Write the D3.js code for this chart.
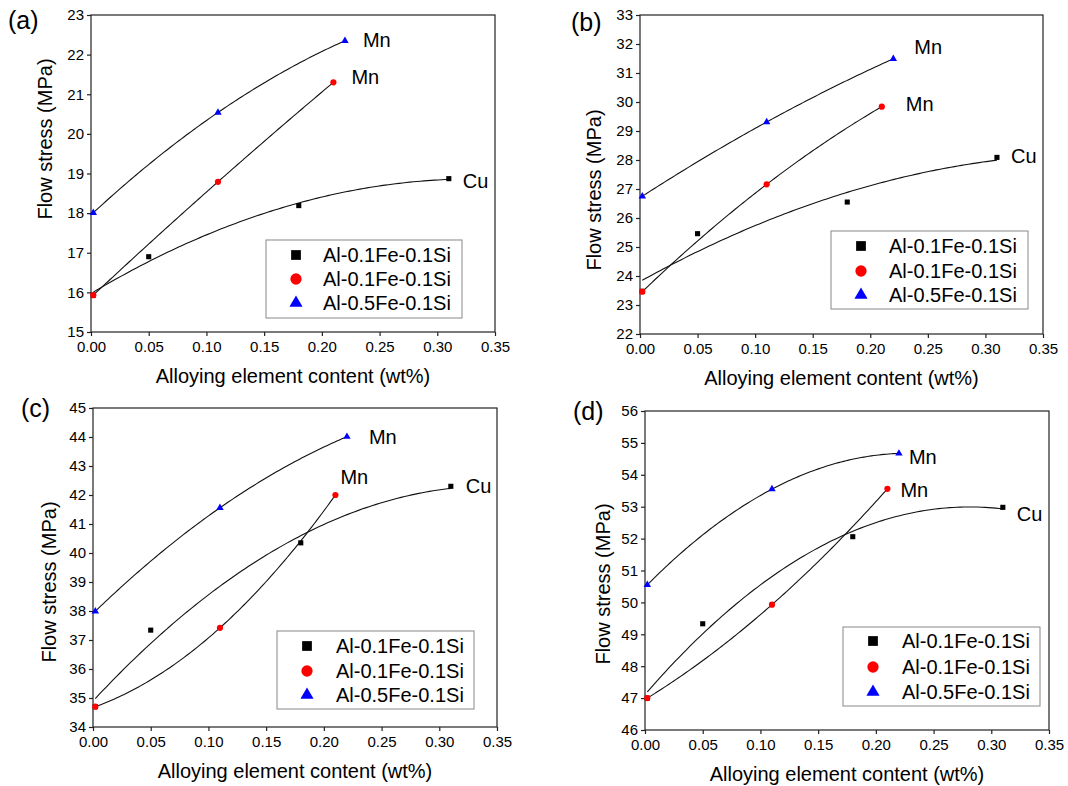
<!DOCTYPE html>
<html>
<head>
<meta charset="utf-8">
<script src="https://cdn.jsdelivr.net/npm/d3@7"></script>
<style>
  html, body { margin: 0; padding: 0; background: #fff; }
  svg { display: block; font-family: "Liberation Sans", Arial, sans-serif; }
</style>
</head>
<body>
<svg id="chart" width="1068" height="786"></svg>
<script>
// Alloying element content (wt%) for each series
const xCu = [0.002, 0.05, 0.18, 0.31];
const xMnLowFe = [0.002, 0.11, 0.21];
const xMnHighFe = [0.002, 0.11, 0.22];

// Flow stress (MPa), panel (a)
const cuA = [15.93, 16.90, 18.19, 18.87];
const mnLowFeA = [15.93, 18.79, 21.30];
const mnHighFeA = [18.01, 20.54, 22.35];
// panel (b)
const cuB = [23.47, 25.46, 26.55, 28.09];
const mnLowFeB = [23.46, 27.16, 29.84];
const mnHighFeB = [26.75, 29.31, 31.49];
// panel (c)
const cuC = [34.70, 37.34, 40.35, 42.30];
const mnLowFeC = [34.70, 37.42, 42.00];
const mnHighFeC = [37.99, 41.56, 44.01];
// panel (d)
const cuD = [47.00, 49.33, 52.06, 52.98];
const mnLowFeD = [47.00, 49.93, 53.56];
const mnHighFeD = [50.55, 53.55, 54.67];

// Axis ranges and ticks
const xTicks = [0, 0.05, 0.10, 0.15, 0.20, 0.25, 0.30, 0.35];
const yRangeA = [15, 23];
const yRangeB = [22, 33];
const yRangeC = [34, 45];
const yRangeD = [46, 56];

const panelNames = ["(a)", "(b)", "(c)", "(d)"];
const legendLabels = ["Al-0.1Fe-0.1Si", "Al-0.1Fe-0.1Si", "Al-0.5Fe-0.1Si"];
const curveLabels = ["Cu", "Mn", "Mn"];
const xTitle = "Alloying element content (wt%)";
const yTitle = "Flow stress (MPa)";

// Plot boxes and text placement for each panel
const panels = [
  { name: panelNames[0], y: yRangeA, series: [cuA, mnLowFeA, mnHighFeA],
    box: { l: 91, r: 495, t: 15, b: 332 },
    tag: { x: 8, y: 29 }, yTitle: { x: 52, y: 139 },
    legend: { x: 266, y: 240, w: 196, h: 78, sx: 296, tx: 323, rows: [255, 279, 303] },
    labelOff: [[14, 2], [18, -5], [18, -1]] },
  { name: panelNames[1], y: yRangeB, series: [cuB, mnLowFeB, mnHighFeB],
    box: { l: 640, r: 1043, t: 15, b: 334 },
    tag: { x: 571, y: 31 }, yTitle: { x: 601, y: 190 },
    legend: { x: 831, y: 231, w: 197, h: 78, sx: 861, tx: 889, rows: [246, 271, 295] },
    labelOff: [[14, -1], [24, -3], [21, -12]] },
  { name: panelNames[2], y: yRangeC, series: [cuC, mnLowFeC, mnHighFeC],
    box: { l: 93, r: 497, t: 408, b: 727 },
    tag: { x: 21, y: 417 }, yTitle: { x: 56, y: 582 },
    legend: { x: 277, y: 631, w: 197, h: 78, sx: 307, tx: 336, rows: [646, 671, 695] },
    labelOff: [[15, 0], [5, -18], [22, 0]] },
  { name: panelNames[3], y: yRangeD, series: [cuD, mnLowFeD, mnHighFeD],
    box: { l: 645, r: 1049, t: 411, b: 730 },
    tag: { x: 573, y: 420 }, yTitle: { x: 610, y: 584 },
    legend: { x: 843, y: 627, w: 197, h: 79, sx: 873, tx: 902, rows: [641, 667, 692] },
    labelOff: [[14, 7], [13, 1], [10, 4]] }
];

const xValues = [xCu, xMnLowFe, xMnHighFe];
const colors = ["#000000", "#ff0000", "#0000ff"];
const symbols = [d3.symbolSquare, d3.symbolCircle, d3.symbolTriangle];
const markSizes = [26, 30, 24];
const legendSizes = [95, 100, 75];

// Least-squares second-order polynomial fit
function quadFit(xs, ys) {
  const s = [0, 0, 0, 0, 0], t = [0, 0, 0];
  xs.forEach((x, i) => {
    for (let k = 0; k < 5; k++) s[k] += Math.pow(x, k);
    for (let k = 0; k < 3; k++) t[k] += ys[i] * Math.pow(x, k);
  });
  const m = [[s[0], s[1], s[2], t[0]], [s[1], s[2], s[3], t[1]], [s[2], s[3], s[4], t[2]]];
  for (let c = 0; c < 3; c++) {
    let p = c;
    for (let r = c + 1; r < 3; r++) if (Math.abs(m[r][c]) > Math.abs(m[p][c])) p = r;
    [m[c], m[p]] = [m[p], m[c]];
    for (let r = 0; r < 3; r++) {
      if (r === c) continue;
      const f = m[r][c] / m[c][c];
      for (let k = c; k < 4; k++) m[r][k] -= f * m[c][k];
    }
  }
  const a = m.map((row, i) => row[3] / row[i]);
  return x => a[0] + a[1] * x + a[2] * x * x;
}

const svg = d3.select("#chart");
const axisColor = "#222";

panels.forEach(p => {
  const g = svg.append("g");
  const x = d3.scaleLinear().domain([0, 0.35]).range([p.box.l, p.box.r]);
  const y = d3.scaleLinear().domain(p.y).range([p.box.b, p.box.t]);

  // Frame
  g.append("rect")
    .attr("x", p.box.l).attr("y", p.box.t)
    .attr("width", p.box.r - p.box.l).attr("height", p.box.b - p.box.t)
    .attr("fill", "none").attr("stroke", axisColor).attr("stroke-width", 1.2);

  // Axes
  const xAxis = d3.axisBottom(x).tickValues(xTicks).tickSize(4).tickPadding(5)
    .tickFormat(d3.format(".2f"));
  const gx = g.append("g").attr("transform", `translate(0,${p.box.b})`).call(xAxis);
  const yAxis = d3.axisLeft(y).ticks(p.y[1] - p.y[0]).tickSize(4).tickPadding(3)
    .tickFormat(d3.format("d"));
  const gy = g.append("g").attr("transform", `translate(${p.box.l},0)`).call(yAxis);
  [gx, gy].forEach(a => {
    a.select(".domain").remove();
    a.selectAll(".tick line").attr("stroke", axisColor).attr("stroke-width", 1.2);
    a.selectAll(".tick text").attr("fill", "#000").style("font-size", "15px")
      .style("font-family", '"Liberation Sans", Arial, sans-serif');
  });

  // Axis titles and panel tag
  g.append("text").attr("x", (p.box.l + p.box.r) / 2).attr("y", p.box.b + 51)
    .attr("text-anchor", "middle").style("font-size", "20px").text(xTitle);
  g.append("text")
    .attr("transform", `translate(${p.yTitle.x},${p.yTitle.y}) rotate(-90)`)
    .attr("text-anchor", "middle").style("font-size", "20px").text(yTitle);
  g.append("text").attr("x", p.tag.x).attr("y", p.tag.y)
    .style("font-size", "25px").text(p.name);

  // Fit curves
  p.series.forEach((ys, si) => {
    const xs = xValues[si];
    const f = quadFit(xs, ys);
    const x0 = xs[0], x1 = xs[xs.length - 1];
    const pts = d3.range(0, 101).map(i => x0 + (x1 - x0) * i / 100);
    g.append("path")
      .attr("d", d3.line().x(v => x(v)).y(v => y(f(v)))(pts))
      .attr("fill", "none").attr("stroke", "#111").attr("stroke-width", 1.1);
  });

  // Markers
  p.series.forEach((ys, si) => {
    const xs = xValues[si];
    g.selectAll(null).data(ys).enter().append("path")
      .attr("transform", (d, i) => `translate(${x(xs[i])},${y(d)})`)
      .attr("d", d3.symbol().type(symbols[si]).size(markSizes[si]))
      .attr("fill", colors[si]);
  });

  // End labels
  p.series.forEach((ys, si) => {
    const xs = xValues[si];
    const n = ys.length - 1;
    g.append("text")
      .attr("x", x(xs[n]) + p.labelOff[si][0])
      .attr("y", y(ys[n]) + p.labelOff[si][1])
      .attr("dominant-baseline", "central")
      .style("font-size", "20px").text(curveLabels[si]);
  });

  // Legend
  const L = p.legend;
  g.append("rect").attr("x", L.x).attr("y", L.y).attr("width", L.w).attr("height", L.h)
    .attr("fill", "#fff").attr("stroke", "#888").attr("stroke-width", 1);
  legendLabels.forEach((lab, i) => {
    g.append("path")
      .attr("transform", `translate(${L.sx},${L.rows[i]})`)
      .attr("d", d3.symbol().type(symbols[i]).size(legendSizes[i]))
      .attr("fill", colors[i]);
    g.append("text").attr("x", L.tx).attr("y", L.rows[i])
      .attr("dominant-baseline", "central")
      .style("font-size", "20px").text(lab);
  });
});
</script>
</body>
</html>
